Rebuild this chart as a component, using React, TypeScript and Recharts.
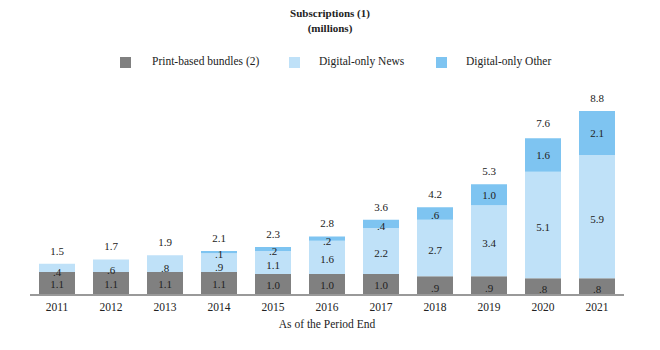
import { Bar, BarChart, LabelList, XAxis, YAxis } from "recharts";

const years = ["2011", "2012", "2013", "2014", "2015", "2016", "2017", "2018", "2019", "2020", "2021"];
const printBundles = [1.1, 1.1, 1.1, 1.1, 1.0, 1.0, 1.0, 0.9, 0.9, 0.8, 0.8];
const digitalNews = [0.4, 0.6, 0.8, 0.9, 1.1, 1.6, 2.2, 2.7, 3.4, 5.1, 5.9];
const digitalOther = [0, 0, 0, 0.1, 0.2, 0.2, 0.4, 0.6, 1.0, 1.6, 2.1];
const totals = [1.5, 1.7, 1.9, 2.1, 2.3, 2.8, 3.6, 4.2, 5.3, 7.6, 8.8];

const data = years.map((year, i) => ({
  year,
  print: printBundles[i],
  news: digitalNews[i],
  other: digitalOther[i],
  total: totals[i],
}));

const GRAY = "#808080";
const LIGHT = "#bfe1f8";
const MID = "#7ec4f1";
const FONT = "'Liberation Serif', 'Times New Roman', serif";

function fmt(v: number): string {
  const s = v.toFixed(1);
  return s.startsWith("0") ? s.slice(1) : s;
}

function makeInner(shift: number) {
  return function InnerLabel(props: any) {
    const { x, y, width, height, value } = props;
    if (!value) return null;
    const extra = value < 1 && height < 22 ? 2 : 0;
    return (
      <text
        x={Number(x) + Number(width) / 2}
        y={Number(y) + Number(height) / 2 + shift + extra}
        textAnchor="middle"
        dominantBaseline="central"
        fontSize={11}
        fill="#222"
        fontFamily={FONT}
      >
        {fmt(Number(value))}
      </text>
    );
  };
}

const PrintLabel = makeInner(0);
const NewsLabel = makeInner(2);
const OtherLabel = makeInner(0);

// total sits above the stack; the pixel scale is taken from the print bar's own rect
function TotalLabel(props: any) {
  const { x, y, width, height, index } = props;
  const ppu = Number(height) / printBundles[index];
  const base = Number(y) + Number(height);
  const top = base - totals[index] * ppu;
  return (
    <text
      x={Number(x) + Number(width) / 2}
      y={top - 9}
      textAnchor="middle"
      fontSize={11}
      fill="#222"
      fontFamily={FONT}
    >
      {totals[index].toFixed(1)}
    </text>
  );
}

const legendItems = [
  { name: "Print-based bundles (2)", color: GRAY, sq: 120, tx: 152 },
  { name: "Digital-only News", color: LIGHT, sq: 289, tx: 319 },
  { name: "Digital-only Other", color: MID, sq: 436, tx: 466 },
];

export default function App() {
  return (
    <div
      style={{
        position: "absolute",
        left: 0,
        top: 0,
        width: 660,
        height: 350,
        background: "#fff",
        fontFamily: FONT,
        color: "#222",
      }}
    >
      <div
        style={{
          position: "absolute",
          top: 6,
          left: 0,
          width: 660,
          textAlign: "center",
          fontWeight: "bold",
          fontSize: 11,
          lineHeight: "15px",
        }}
      >
        Subscriptions (1)
        <br />
        (millions)
      </div>
      {legendItems.map((l) => (
        <div key={l.name}>
          <div
            style={{
              position: "absolute",
              left: l.sq,
              top: 57,
              width: 11,
              height: 11,
              background: l.color,
            }}
          />
          <div style={{ position: "absolute", left: l.tx, top: 55, fontSize: 11.5 }}>{l.name}</div>
        </div>
      ))}
      <div
        style={{
          position: "absolute",
          top: 318,
          left: 0,
          width: 654,
          textAlign: "center",
          fontSize: 11.5,
        }}
      >
        As of the Period End
      </div>
      <div style={{ position: "absolute", left: 0, top: 0 }}>
        <BarChart
          width={660}
          height={350}
          data={data}
          margin={{ top: 86, right: 36, bottom: 35, left: 30 }}
          barSize={36}
        >
          <XAxis
            dataKey="year"
            tickLine={false}
            axisLine={{ stroke: "#999", strokeWidth: 2 }}
            height={20}
            tick={{ fontSize: 11.5, fill: "#222", fontFamily: FONT }}
            interval={0}
          />
          <YAxis hide domain={[0, 10]} />
          <Bar dataKey="print" stackId="s" fill={GRAY} isAnimationActive={false}>
            <LabelList dataKey="print" content={PrintLabel} />
            <LabelList dataKey="total" content={TotalLabel} />
          </Bar>
          <Bar dataKey="news" stackId="s" fill={LIGHT} isAnimationActive={false}>
            <LabelList dataKey="news" content={NewsLabel} />
          </Bar>
          <Bar dataKey="other" stackId="s" fill={MID} isAnimationActive={false}>
            <LabelList dataKey="other" content={OtherLabel} />
          </Bar>
        </BarChart>
      </div>
    </div>
  );
}
